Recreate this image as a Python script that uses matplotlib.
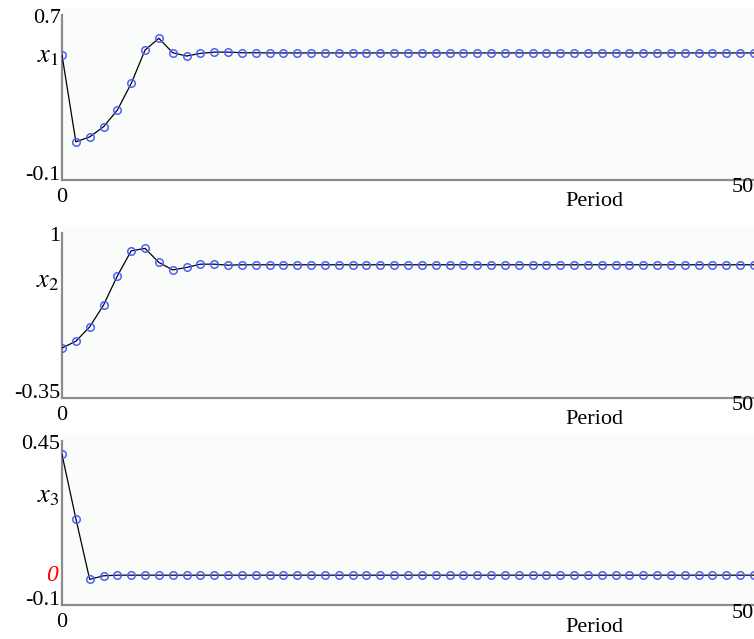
#! /usr/bin/env python3
# -*- coding: utf-8 -*-

import matplotlib
matplotlib.use('Agg')
import matplotlib.pyplot as plt

period = list(range(51))

x1 = [0.506, 0.085, 0.109, 0.158, 0.239, 0.368, 0.530, 0.587, 0.517, 0.501,
      0.514, 0.520, 0.520, 0.517, 0.517, 0.516, 0.516, 0.516, 0.516, 0.516,
      0.516, 0.516, 0.516, 0.516, 0.516, 0.516, 0.516, 0.516, 0.516, 0.516,
      0.516, 0.516, 0.516, 0.516, 0.516, 0.516, 0.516, 0.516, 0.516, 0.516,
      0.516, 0.516, 0.516, 0.516, 0.516, 0.516, 0.516, 0.516, 0.516, 0.516,
      0.516]
x2 = [0.059, 0.114, 0.232, 0.410, 0.649, 0.854, 0.874, 0.759, 0.698, 0.718,
      0.745, 0.745, 0.737, 0.740, 0.740, 0.740, 0.740, 0.740, 0.740, 0.740,
      0.740, 0.740, 0.740, 0.740, 0.740, 0.740, 0.740, 0.740, 0.740, 0.740,
      0.740, 0.740, 0.740, 0.740, 0.740, 0.740, 0.740, 0.740, 0.740, 0.740,
      0.740, 0.740, 0.740, 0.740, 0.740, 0.740, 0.740, 0.740, 0.740, 0.740,
      0.740]
x3 = [0.405, 0.190, -0.014, -0.002, 0.000, 0.000, 0.000, 0.000, 0.000, 0.000,
      0.000, 0.000, 0.000, 0.000, 0.000, 0.000, 0.000, 0.000, 0.000, 0.000,
      0.000, 0.000, 0.000, 0.000, 0.000, 0.000, 0.000, 0.000, 0.000, 0.000,
      0.000, 0.000, 0.000, 0.000, 0.000, 0.000, 0.000, 0.000, 0.000, 0.000,
      0.000, 0.000, 0.000, 0.000, 0.000, 0.000, 0.000, 0.000, 0.000, 0.000,
      0.000]

series = [x1, x2, x3]
labels = ['$x_1$', '$x_2$', '$x_3$']
y_ranges = [(-0.1, 0.7), (-0.35, 1.0), (-0.1, 0.45)]
y_tick_text = [('-0.1', '0.7'), ('-0.35', '1'), ('-0.1', '0.45')]

W, H = 754, 639
# pixel positions of each panel: (top of y axis, bottom spine)
panels = [(15, 180), (233, 398), (441, 605)]
label_drop = [40, 47, 54]
FS = 16


def draw_panel(fig, top, bottom, values, label, yr, ytxt, drop, red_zero):
    ymin, ymax = yr
    ppu = (bottom - top) / (ymax - ymin)
    extra = 7 / ppu
    left = 62
    ax = fig.add_axes([left / W, (H - bottom) / H, (W - left) / W,
                       (bottom - top + 7) / H])
    ax.set_facecolor('#fafcf9')
    ax.plot(period, values, color='black', lw=0.9, zorder=3,
            marker='o', markersize=5.4, markerfacecolor='none',
            markeredgecolor='#4f5cff', markeredgewidth=1.1)
    ax.set_xlim(0, 50)
    ax.set_ylim(ymin, ymax + extra)
    for s in ['top', 'right']:
        ax.spines[s].set_visible(False)
    for s in ['left', 'bottom']:
        ax.spines[s].set_color('#8c8c8c')
        ax.spines[s].set_linewidth(1.6)
    ax.spines['left'].set_bounds(ymin, ymax)

    # y labels at the ends of the axis, nudged inwards a little
    ax.set_yticks([])
    ax.annotate(ytxt[0], (0, ymin), xytext=(-1, 3.5), textcoords='offset points',
                ha='right', va='center', fontsize=FS, family='Liberation Serif',
                annotation_clip=False)
    ax.annotate(ytxt[1], (0, ymax), xytext=(-1, -2.5), textcoords='offset points',
                ha='right', va='center', fontsize=FS, family='Liberation Serif',
                annotation_clip=False)
    ax.set_xticks([0])
    ax.set_xticklabels(['0'])
    ax.tick_params(length=0, labelsize=FS)
    ax.tick_params(axis='x', pad=6)
    for t in ax.get_xticklabels():
        t.set_family('Liberation Serif')

    if red_zero:
        ax.text(-0.3, 0, '0', color='red', style='italic', ha='right',
                va='center', fontsize=17, family='Liberation Serif')

    fig.text(48 / W, 1 - (top + drop) / H, label, ha='center', va='center',
             fontsize=19)
    fig.text(594 / W, 1 - (bottom + 22) / H, 'Period', ha='center',
             va='center', fontsize=FS, family='Liberation Serif')
    # "50" sits higher, right aligned at the figure edge
    fig.text(1.0, 1 - (bottom + 8) / H, '50', ha='right', va='center',
             fontsize=FS, family='Liberation Serif')
    return ax


def main():
    plt.rcParams['mathtext.fontset'] = 'stix'
    fig = plt.figure(figsize=(W / 100, H / 100), dpi=100)
    for i in range(3):
        top, bottom = panels[i]
        draw_panel(fig, top, bottom, series[i], labels[i], y_ranges[i],
                   y_tick_text[i], label_drop[i], i == 2)
    fig.savefig('out.png', dpi=100)


if __name__ == '__main__':
    main()
